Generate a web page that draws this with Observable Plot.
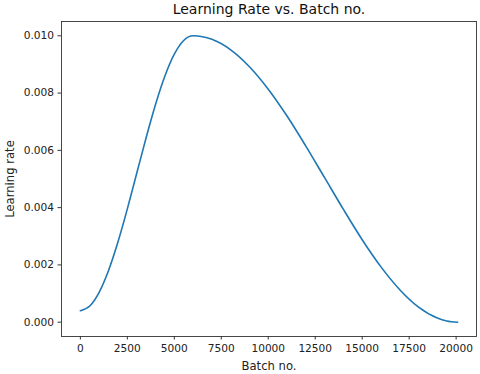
<!DOCTYPE html>
<html>
<head>
<meta charset="utf-8">
<script src="https://cdn.jsdelivr.net/npm/d3@7"></script>
<script src="https://cdn.jsdelivr.net/npm/@observablehq/plot@0.6"></script>
<style>
  html, body { margin: 0; padding: 0; background: #fff; }
</style>
</head>
<body>
<div id="chart"></div>
<script>
const batches = [0, 500, 1000, 1500, 2000, 2500, 3000, 3500, 4000, 4500, 5000, 5500, 6000,
  6500, 7000, 8000, 9000, 10000, 11000, 12000, 13000, 14000, 15000, 16000, 17000, 18000, 19000, 19500, 20080];
const rates = [0.0004, 0.000564, 0.001043, 0.001806, 0.0028, 0.003958, 0.0052, 0.006442, 0.0076, 0.008594, 0.009357, 0.009836, 0.01,
  0.009969, 0.009876, 0.009511, 0.008921, 0.008137, 0.007199, 0.006149, 0.005045, 0.003939, 0.00288, 0.001931, 0.001135, 0.000525, 0.000144, 0.000043, 0.0];
const xTicks = [0, 2500, 5000, 7500, 10000, 12500, 15000, 17500, 20000];
const yTicks = [0, 0.002, 0.004, 0.006, 0.008, 0.010];
const title = "Learning Rate vs. Batch no.";
const xLabel = "Batch no.";
const yLabel = "Learning rate";

const data = batches.map((b, i) => ({batch: b, lr: rates[i]}));

const chart = Plot.plot({
  width: 480,
  height: 374,
  marginLeft: 61,
  marginRight: 4,
  marginTop: 21,
  marginBottom: 38,
  style: {fontFamily: "DejaVu Sans", fontSize: "10.6px", color: "#222", background: "#fff"},
  x: {domain: [-1004, 21084]},
  y: {domain: [-0.0005, 0.0105]},
  marks: [
    Plot.axisX({ticks: xTicks, tickFormat: d3.format("d"), tickSize: 3.5, tickPadding: 4, label: null, stroke: "#333"}),
    Plot.axisY({ticks: yTicks, tickFormat: d3.format(".3f"), tickSize: 3.5, tickPadding: 4, label: null, stroke: "#333"}),
    Plot.line(data, {x: "batch", y: "lr", stroke: "#1f77b4", strokeWidth: 1.6, curve: "monotone-x"}),
    Plot.frame({stroke: "#333", strokeWidth: 0.9}),
    Plot.text([title], {frameAnchor: "top", dy: -11.5, lineAnchor: "middle", textAnchor: "middle", fontSize: 14, fill: "#111"}),
    Plot.text([xLabel], {frameAnchor: "bottom", dy: 30, lineAnchor: "middle", textAnchor: "middle", fontSize: 11.6, fill: "#222"}),
    Plot.text([yLabel], {frameAnchor: "left", dx: -51, rotate: -90, lineAnchor: "middle", textAnchor: "middle", fontSize: 11.6, fill: "#222"})
  ]
});
document.getElementById("chart").appendChild(chart);
</script>
</body>
</html>
